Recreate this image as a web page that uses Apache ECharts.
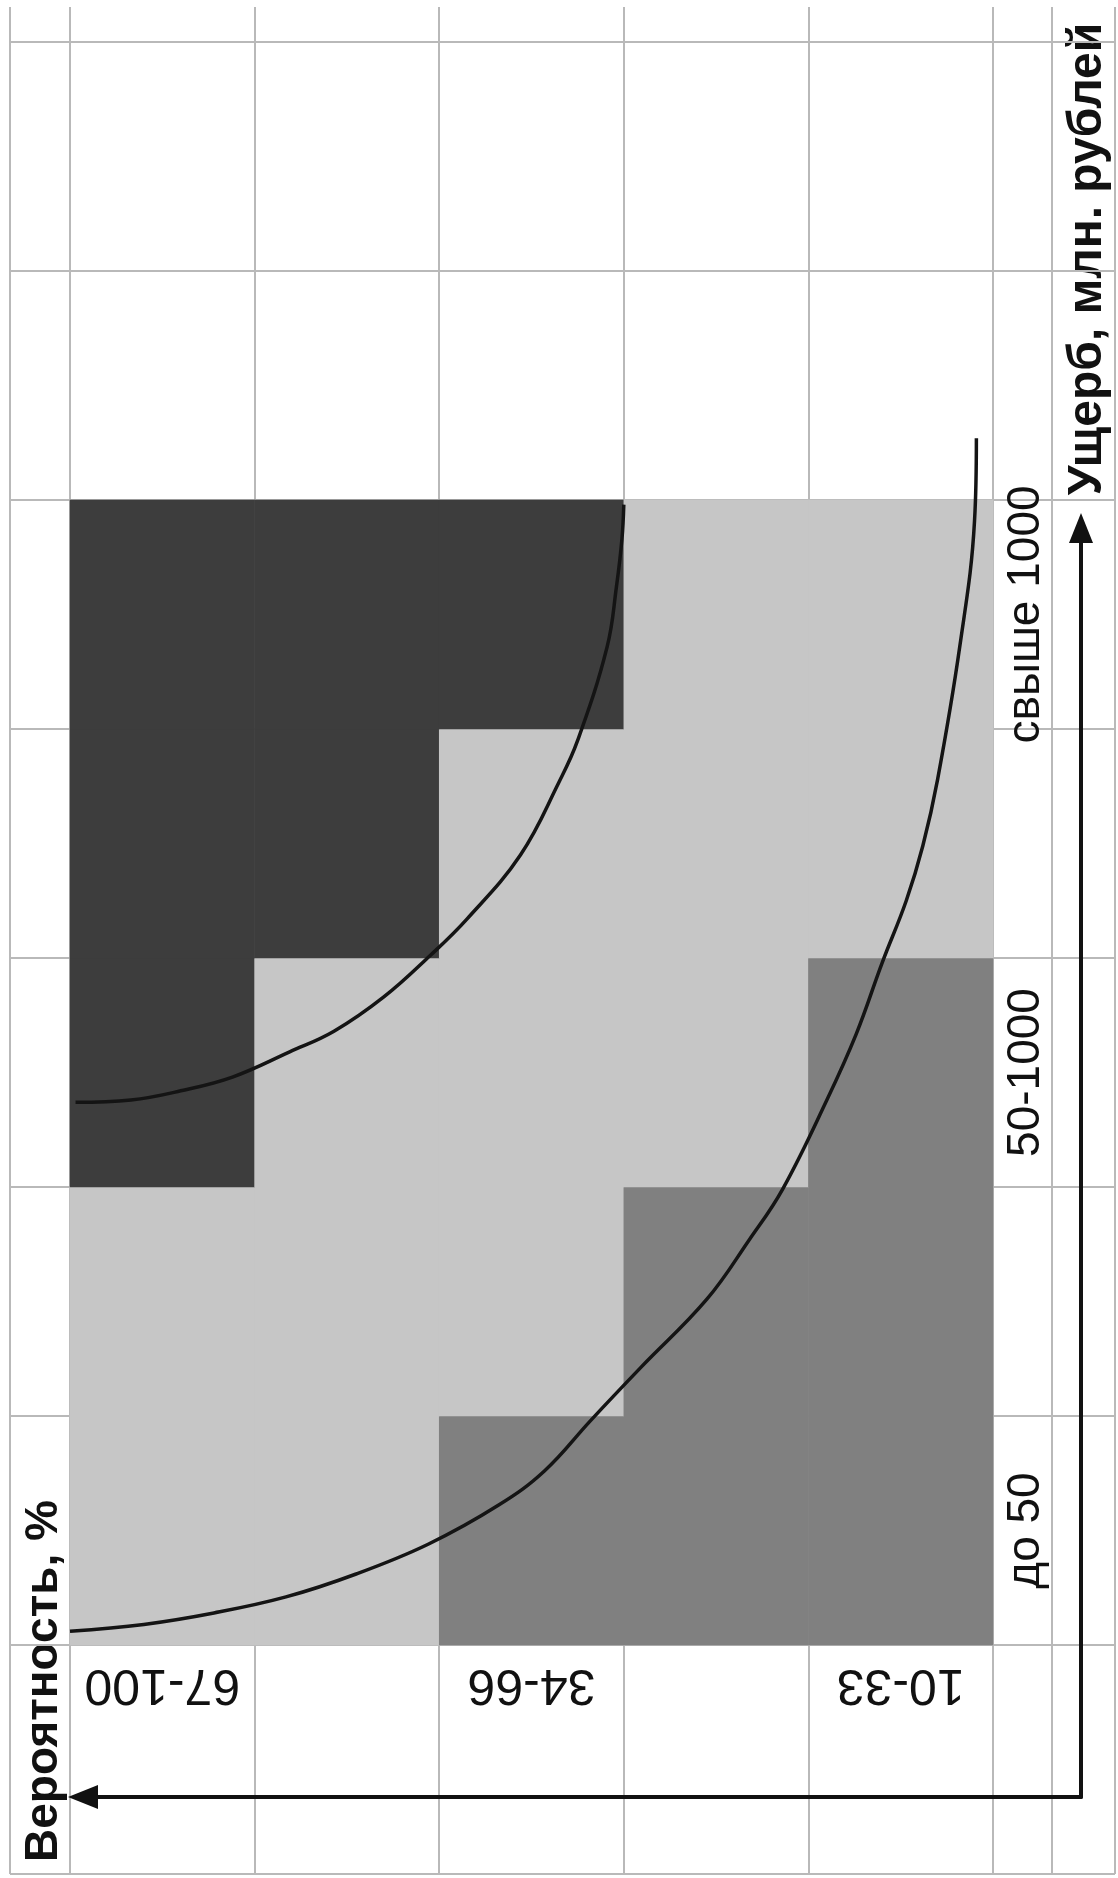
<!DOCTYPE html>
<html><head><meta charset="utf-8">
<script src="https://cdn.jsdelivr.net/npm/echarts@6/dist/echarts.min.js"></script>
<style>html,body{margin:0;padding:0;background:#fff}#c{width:1118px;height:1878px}</style>
</head><body><div id="c"></div>
<script>
// ---- data ----
// probability classes, image left -> right (probability grows to the left)
const probabilityCategories = ['67-100', '', '34-66', '', '10-33'];
// damage classes, bottom -> top (damage grows upward)
const damageCategories = ['до 50', '', '50-1000', '', 'свыше 1000'];
// risk level per cell (1 = low, 2 = medium, 3 = high); rows bottom -> top, columns left -> right
const riskLevels = [
  [2, 2, 1, 1, 1],
  [2, 2, 2, 1, 1],
  [3, 2, 2, 2, 1],
  [3, 3, 2, 2, 2],
  [3, 3, 3, 2, 2]
];
// iso-risk curves, in cell units (x: columns from left, y: rows from the bottom line)
const innerCurve = [
  [0.03,3.37],[0.33,3.38],[0.60,3.42],[0.88,3.48],[1.19,3.59],[1.43,3.68],[1.70,3.83],[1.95,4.01],
  [2.15,4.17],[2.44,4.45],[2.65,4.77],[2.75,4.95],[2.91,5.36],[2.96,5.62],[2.99,5.83],[3.00,5.98]
];
const outerCurve = [
  [0.00,1.06],[0.40,1.09],[0.78,1.14],[1.17,1.21],[1.55,1.31],[1.94,1.44],[2.32,1.61],[2.57,1.76],
  [2.82,1.98],[3.09,2.21],[3.45,2.51],[3.68,2.77],[3.86,2.99],[4.10,3.38],[4.26,3.67],[4.40,3.98],
  [4.53,4.25],[4.62,4.49],[4.70,4.78],[4.82,5.36],[4.90,5.91],[4.91,6.27]
];
const axisTitleProbability = 'Вероятность, %';
const axisTitleDamage = 'Ущерб, млн. рублей';

// ---- build ----
const heatData = [];
riskLevels.forEach((row, r) => row.forEach((v, c) => heatData.push([c, r, v])));

const FONT = '"Liberation Sans", Arial, sans-serif';
const gridLine = { show: true, lineStyle: { color: '#b9b9b9', width: 2 } };
const hidden = { axisLine: { show: false }, axisTick: { show: false }, axisLabel: { show: false } };
const rowsSpan = (1874 - 7) / 229;
const curveStyle = { color: '#141414', width: 3.5 };

const chart = echarts.init(document.getElementById('c'), null, { renderer: 'canvas' });
chart.setOption({
  animation: false,
  backgroundColor: '#ffffff',
  grid: [
    { left: 10, top: 7, width: 1105, height: 1867 },   // page grid
    { left: 993, top: 7, width: 59, height: 1867 },    // label column lines
    { left: 70, top: 7, width: 923, height: 1867 },    // curves / matrix columns
    { left: 70, top: 500, width: 923, height: 1145 },  // risk matrix
    { left: 83, top: 528, right: 37, bottom: 81 }      // axis arrows
  ],
  xAxis: [
    Object.assign({ gridIndex: 0, type: 'value', min: 0, max: 1, interval: 1, splitLine: gridLine }, hidden),
    Object.assign({ gridIndex: 1, type: 'value', min: 0, max: 1, interval: 1, splitLine: gridLine }, hidden),
    Object.assign({ gridIndex: 2, type: 'value', min: 0, max: 5, interval: 1, splitLine: gridLine }, hidden),
    {
      gridIndex: 3, type: 'category', data: probabilityCategories, position: 'bottom',
      axisLine: { show: false }, axisTick: { show: false }, splitLine: { show: false },
      axisLabel: { rotate: 180, margin: 14, fontSize: 50, color: '#111', fontFamily: FONT, interval: 0 }
    },
    {
      gridIndex: 4, type: 'value', min: 0, max: 1, inverse: true, position: 'bottom',
      axisLine: { show: true, onZero: false, symbol: ['triangle', 'none'], symbolSize: [24, 30],
        lineStyle: { color: '#111', width: 4 } },
      axisTick: { show: false }, axisLabel: { show: false }, splitLine: { show: false }
    }
  ],
  yAxis: [
    Object.assign({ gridIndex: 0, type: 'value', min: 0, max: rowsSpan, interval: 1,
      splitLine: Object.assign({ showMaxLine: false }, gridLine) }, hidden),
    Object.assign({ gridIndex: 1, type: 'value', min: 0, max: 1, splitLine: { show: false } }, hidden),
    Object.assign({ gridIndex: 2, type: 'value', min: 0, max: rowsSpan, splitLine: { show: false } }, hidden),
    {
      gridIndex: 3, type: 'category', data: damageCategories, position: 'right',
      axisLine: { show: false }, axisTick: { show: false }, splitLine: { show: false },
      axisLabel: { rotate: 90, margin: 10, fontSize: 46, color: '#111', fontFamily: FONT, interval: 0 }
    },
    {
      gridIndex: 4, type: 'value', min: 0, max: 1, position: 'right',
      axisLine: { show: true, onZero: false, symbol: ['none', 'triangle'], symbolSize: [24, 30],
        lineStyle: { color: '#111', width: 4 } },
      axisTick: { show: false }, axisLabel: { show: false }, splitLine: { show: false }
    }
  ],
  visualMap: {
    type: 'piecewise', show: false, seriesIndex: 0, dimension: 2,
    pieces: [
      { value: 1, color: '#808080' },
      { value: 2, color: '#c6c6c6' },
      { value: 3, color: '#3d3d3d' }
    ]
  },
  series: [
    { type: 'heatmap', xAxisIndex: 3, yAxisIndex: 3, data: heatData, itemStyle: { borderWidth: 0 } },
    { type: 'line', xAxisIndex: 2, yAxisIndex: 2, data: innerCurve, showSymbol: false, smooth: 0.4,
      lineStyle: curveStyle },
    { type: 'line', xAxisIndex: 2, yAxisIndex: 2, data: outerCurve, showSymbol: false, smooth: 0.4,
      lineStyle: curveStyle }
  ],
  graphic: [
    { type: 'text', x: 1088, y: 259, rotation: Math.PI / 2,
      style: { text: axisTitleDamage, font: 'bold 48px ' + FONT, fill: '#111', align: 'center', verticalAlign: 'middle' } },
    { type: 'text', x: 44, y: 1681, rotation: Math.PI / 2,
      style: { text: axisTitleProbability, font: 'bold 46px ' + FONT, fill: '#111', align: 'center', verticalAlign: 'middle' } }
  ]
});
</script></body></html>
